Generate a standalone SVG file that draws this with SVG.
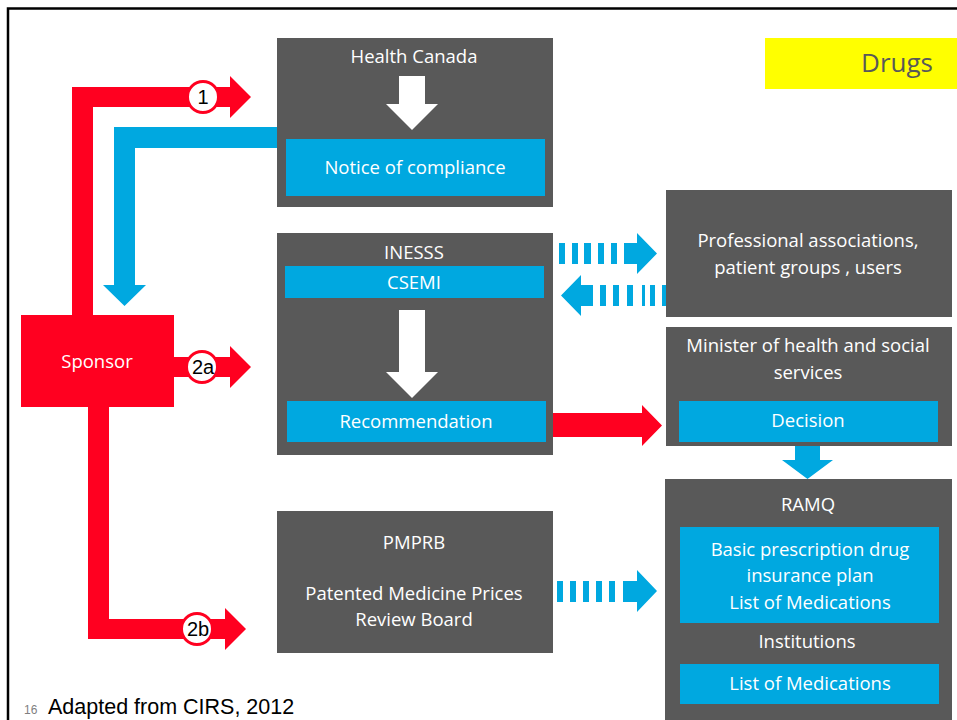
<svg xmlns="http://www.w3.org/2000/svg" width="957" height="720" viewBox="0 0 957 720">
<style>
.box{fill:#595959}
.blue{fill:#00A8E0}
.red{fill:#FF0020}
.wh{fill:#FFFFFF}
.t{font-family:"Open Sans","Noto Sans",sans-serif;font-size:18.5px;fill:#FFFFFF;text-anchor:middle}
.num{font-family:"Liberation Sans",Arial,sans-serif;font-size:20px;fill:#000000;text-anchor:middle}
.circ{fill:#FFFFFF;stroke:#FF0020;stroke-width:3}
</style>
<rect width="957" height="720" fill="#FFFFFF"/>
<path d="M8 730 V8.5 H970" fill="none" stroke="#000" stroke-width="2.5"/>

<g id="drugs">
<rect x="765" y="38" width="195" height="51" fill="#FFFF00"/>
<text x="933" y="72" font-family="'Open Sans','Noto Sans',sans-serif" font-size="26" fill="#595959" text-anchor="end">Drugs</text>
</g>

<g id="health-canada">
<rect class="box" x="277" y="38" width="276" height="169"/>
<text class="t" x="414" y="63">Health Canada</text>
<polygon class="wh" points="399,76 425,76 425,104 438,104 412,130 386,104 399,104"/>
<rect class="blue" x="286" y="139" width="259" height="57"/>
<text class="t" x="415" y="174">Notice of compliance</text>
</g>

<g id="inesss">
<rect class="box" x="277" y="233" width="276" height="222"/>
<text class="t" x="414" y="259">INESSS</text>
<rect class="blue" x="285" y="266" width="259" height="32"/>
<text class="t" x="414" y="289">CSEMI</text>
<polygon class="wh" points="399,310 425,310 425,372 438,372 412,398 386,372 399,372"/>
<rect class="blue" x="287" y="401" width="259" height="41"/>
<text class="t" x="416" y="428">Recommendation</text>
</g>

<g id="professional">
<rect class="box" x="666" y="190" width="286" height="127"/>
<text class="t" x="808" y="247">Professional associations,</text>
<text class="t" x="808" y="274">patient groups , users</text>
</g>

<g id="minister">
<rect class="box" x="666" y="327" width="286" height="119"/>
<text class="t" x="808" y="352">Minister of health and social</text>
<text class="t" x="808" y="379">services</text>
<rect class="blue" x="679" y="401" width="259" height="41"/>
<text class="t" x="808" y="427">Decision</text>
</g>

<g id="ramq">
<rect class="box" x="665" y="479" width="287" height="250"/>
<text class="t" x="808" y="511">RAMQ</text>
<rect class="blue" x="680" y="527" width="259" height="96"/>
<text class="t" x="810" y="556">Basic prescription drug</text>
<text class="t" x="810" y="582">insurance plan</text>
<text class="t" x="810" y="609">List of Medications</text>
<text class="t" x="807" y="648">Institutions</text>
<rect class="blue" x="680" y="664" width="259" height="40"/>
<text class="t" x="810" y="690">List of Medications</text>
</g>

<g id="pmprb">
<rect class="box" x="277" y="511" width="276" height="142"/>
<text class="t" x="414" y="549">PMPRB</text>
<text class="t" x="414" y="600">Patented Medicine Prices</text>
<text class="t" x="414" y="626">Review Board</text>
</g>

<g id="sponsor">
<rect class="red" x="21" y="315" width="153" height="92"/>
<text class="t" x="97" y="368">Sponsor</text>
</g>

<g id="connectors">
<polygon class="red" points="72,315 72,87 230,87 230,76 251,97 230,118 230,107 93,107 93,315"/>
<polygon class="blue" points="277,127 114,127 114,285 103,285 124.5,306 146,285 135,285 135,148 277,148"/>
<polygon class="red" points="174,357 230,357 230,346 251,367 230,388 230,377 174,377"/>
<polygon class="red" points="88,407 88,639 225,639 225,650 246,629 225,608 225,619 109,619 109,407"/>
<polygon class="red" points="553,413 642,413 642,405 662,425.5 642,446 642,437 553,437"/>
<polygon class="blue" points="795,446 820,446 820,460 833,460 807.5,479 782,460 795,460"/>
<g class="blue">
<rect x="559" y="243" width="6" height="21"/>
<rect x="572" y="243" width="6" height="21"/>
<rect x="584" y="243" width="7" height="21"/>
<rect x="598" y="243" width="6" height="21"/>
<rect x="611" y="243" width="6" height="21"/>
<polygon points="624,243 637,243 637,233 657,253.5 637,274 637,264 624,264"/>
<polygon points="561,295.5 581,275 581,285 593,285 593,306 581,306 581,316"/>
<rect x="600" y="285" width="6" height="21"/>
<rect x="613" y="285" width="6" height="21"/>
<rect x="627" y="285" width="6" height="21"/>
<rect x="642" y="285" width="3" height="21"/>
<rect x="650" y="285" width="5" height="21"/>
<rect x="662" y="285" width="4" height="21"/>
<rect x="557" y="581" width="6" height="21"/>
<rect x="570" y="581" width="6" height="21"/>
<rect x="583" y="581" width="6" height="21"/>
<rect x="596" y="581" width="6" height="21"/>
<rect x="609" y="581" width="6" height="21"/>
<polygon points="623,581 637,581 637,570 657,591 637,612 637,602 623,602"/>
</g>
</g>

<g id="labels">
<circle class="circ" cx="203" cy="97" r="15.5"/>
<text class="num" x="203" y="104">1</text>
<circle class="circ" cx="202" cy="367" r="15.5"/>
<text class="num" x="203" y="374">2a</text>
<circle class="circ" cx="197" cy="629" r="15.5"/>
<text class="num" x="198" y="636">2b</text>
</g>

<g id="footer">
<text x="24" y="714" font-family="'Liberation Sans',Arial,sans-serif" font-size="12" fill="#7F7F7F">16</text>
<text x="48" y="714" font-family="'Liberation Sans',Arial,sans-serif" font-size="21.5" fill="#000000">Adapted from CIRS, 2012</text>
</g>
</svg>
